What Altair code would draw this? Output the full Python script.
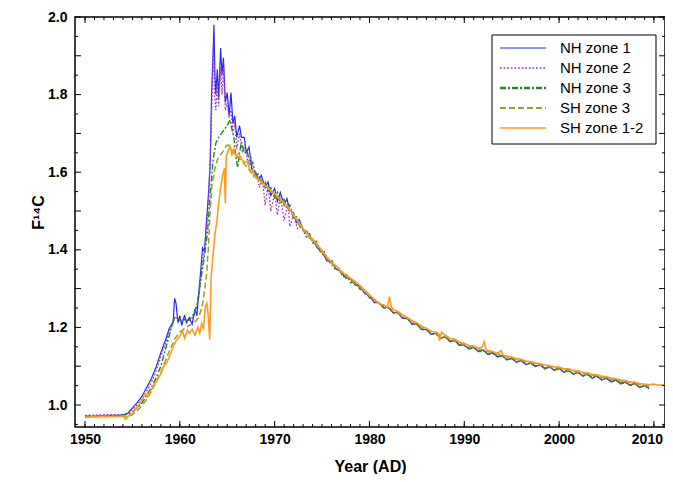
import altair as alt
import pandas as pd

# ---------------- data ----------------
series_names = ["NH zone 1", "NH zone 2", "NH zone 3", "SH zone 3", "SH zone 1-2"]

nh1 = [(1950.0,0.970),(1951.0,0.971),(1952.0,0.972),(1953.0,0.973),(1954.0,0.974),(1954.5,0.978),
       (1955.0,0.992),(1955.5,1.006),(1956.0,1.022),(1956.5,1.045),(1957.0,1.068),(1957.5,1.098),
       (1958.0,1.135),(1958.5,1.168),(1958.9,1.198),(1959.3,1.215),(1959.45,1.275),(1959.6,1.262),
       (1959.8,1.212),(1960.0,1.230),(1960.2,1.205),(1960.5,1.232),(1960.7,1.212),(1961.0,1.225),
       (1961.3,1.208),(1961.6,1.248),(1961.8,1.230),(1962.0,1.290),(1962.2,1.345),(1962.4,1.405),
       (1962.6,1.395),(1962.8,1.470),(1963.0,1.535),(1963.2,1.620),(1963.35,1.800),(1963.5,1.900),
       (1963.6,1.980),(1963.7,1.850),(1963.8,1.800),(1963.95,1.865),(1964.1,1.790),(1964.3,1.920),
       (1964.45,1.850),(1964.6,1.895),(1964.8,1.780),(1965.0,1.805),(1965.2,1.745),(1965.4,1.805),
       (1965.6,1.725),(1965.8,1.745),(1966.0,1.690),(1966.3,1.720),(1966.5,1.690),(1966.8,1.690),
       (1967.0,1.650),(1967.3,1.665),(1967.6,1.605),(1968.0,1.600),(1968.3,1.580),(1968.6,1.592),
       (1969.0,1.560),(1969.3,1.575),(1969.6,1.540),(1970.0,1.558),(1970.3,1.525),(1970.6,1.548),
       (1971.0,1.515),(1971.3,1.532),(1971.6,1.500),(1972.0,1.495),(1972.3,1.470),(1972.6,1.478),
       (1973.0,1.450),(1973.4,1.448),(1973.7,1.430),(1974.0,1.428),(1974.5,1.405),(1975.0,1.395),
       (1975.5,1.372),(1976.0,1.368),(1976.5,1.350),(1977.0,1.345),(1977.5,1.327),(1978.0,1.326),
       (1978.5,1.309),(1979.0,1.307),(1979.5,1.287),(1980.0,1.282),(1980.5,1.264),
       (1981.0,1.264),(1981.5,1.250),(1982.0,1.252),(1982.5,1.237),(1983.0,1.239),(1983.5,1.223),
       (1984.0,1.224),(1984.5,1.208),(1985.0,1.209),(1985.5,1.194),(1986.0,1.195),(1986.5,1.182),
       (1987.0,1.185),(1987.5,1.172),(1988.0,1.176),(1988.5,1.163),(1989.0,1.167),(1989.5,1.153),
       (1990.0,1.155),(1990.5,1.144),(1991.0,1.149),(1991.5,1.137),(1992.0,1.142),(1992.5,1.130),
       (1993.0,1.135),(1993.5,1.124),(1994.0,1.128),(1994.5,1.116),(1995.0,1.121),(1995.5,1.110),
       (1996.0,1.115),(1996.5,1.104),(1997.0,1.109),(1997.5,1.099),(1998.0,1.104),(1998.5,1.093),
       (1999.0,1.099),(1999.5,1.089),(2000.0,1.095),(2000.5,1.084),(2001.0,1.090),(2001.5,1.079),
       (2002.0,1.085),(2002.5,1.074),(2003.0,1.080),(2003.5,1.069),(2004.0,1.075),(2004.5,1.064),
       (2005.0,1.070),(2005.5,1.059),(2006.0,1.065),(2006.5,1.054),(2007.0,1.060),(2007.5,1.050),
       (2008.0,1.056),(2008.5,1.045),(2009.0,1.051),(2009.5,1.042)]

nh2 = [(1950.0,0.973),(1951.0,0.974),(1952.0,0.975),(1953.0,0.975),(1954.0,0.976),(1954.5,0.979),
       (1955.0,0.988),(1955.5,1.000),(1956.0,1.015),(1956.5,1.035),(1957.0,1.058),(1957.5,1.088),
       (1958.0,1.125),(1958.5,1.160),(1959.0,1.195),(1959.5,1.225),(1960.0,1.222),(1960.5,1.218),
       (1961.0,1.218),(1961.5,1.228),(1962.0,1.275),(1962.3,1.350),(1962.6,1.400),(1962.9,1.480),
       (1963.1,1.570),(1963.3,1.700),(1963.45,1.850),(1963.55,1.935),(1963.65,1.800),(1963.8,1.760),
       (1963.95,1.830),(1964.1,1.770),(1964.3,1.870),(1964.45,1.800),(1964.6,1.870),(1964.8,1.760),
       (1965.0,1.780),(1965.2,1.740),(1965.4,1.760),(1965.6,1.700),(1965.8,1.730),(1966.0,1.660),
       (1966.3,1.700),(1966.6,1.650),(1966.9,1.670),(1967.2,1.620),(1967.5,1.640),(1967.8,1.590),
       (1968.1,1.600),(1968.4,1.560),(1968.7,1.585),(1969.0,1.515),(1969.3,1.565),(1969.6,1.500),
       (1970.0,1.545),(1970.3,1.490),(1970.6,1.540),(1971.0,1.475),(1971.4,1.520),(1971.6,1.460),
       (1972.0,1.490),(1972.4,1.455),(1972.8,1.465),(1973.2,1.440),(1973.6,1.445),(1974.0,1.420),
       (1974.5,1.410),(1975.0,1.390),(1975.5,1.377),(1976.0,1.362),(1976.5,1.352),(1977.0,1.340),
       (1977.5,1.330),(1978.0,1.322),(1978.5,1.312),(1979.0,1.303),(1979.5,1.290),(1980.0,1.279),
       (1980.5,1.267),
       (1981.0,1.262),(1981.5,1.251),(1982.0,1.250),(1982.5,1.238),(1983.0,1.237),(1983.5,1.224),
       (1984.0,1.222),(1984.5,1.209),(1985.0,1.207),(1985.5,1.195),(1986.0,1.193),(1986.5,1.183),
       (1987.0,1.183),(1987.5,1.173),(1988.0,1.174),(1988.5,1.164),(1989.0,1.165),(1989.5,1.154),
       (1990.0,1.153),(1990.5,1.145),(1991.0,1.147),(1991.5,1.138),(1992.0,1.140),(1992.5,1.131),
       (1993.0,1.133),(1993.5,1.125),(1994.0,1.126),(1994.5,1.117),(1995.0,1.119),(1995.5,1.111),
       (1996.0,1.113),(1996.5,1.105),(1997.0,1.107),(1997.5,1.100),(1998.0,1.102),(1998.5,1.094),
       (1999.0,1.097),(1999.5,1.090),(2000.0,1.093),(2000.5,1.085),(2001.0,1.088),(2001.5,1.080),
       (2002.0,1.083),(2002.5,1.075),(2003.0,1.078),(2003.5,1.070),(2004.0,1.073),(2004.5,1.065),
       (2005.0,1.068),(2005.5,1.060),(2006.0,1.063),(2006.5,1.055),(2007.0,1.058),(2007.5,1.051),
       (2008.0,1.054),(2008.5,1.046),(2009.0,1.049),(2009.5,1.043)]

nh3 = [(1950.0,0.971),(1951.0,0.972),(1952.0,0.972),(1953.0,0.973),(1954.0,0.974),(1954.5,0.976),
       (1955.0,0.982),(1955.5,0.992),(1956.0,1.005),(1956.5,1.025),(1957.0,1.045),(1957.5,1.070),
       (1958.0,1.100),(1958.5,1.145),(1959.0,1.190),(1959.4,1.225),(1959.8,1.222),(1960.2,1.215),
       (1960.6,1.222),(1961.0,1.218),(1961.4,1.232),(1961.8,1.255),(1962.2,1.320),(1962.6,1.385),
       (1962.9,1.440),(1963.2,1.540),(1963.5,1.630),(1963.8,1.675),(1964.1,1.690),(1964.4,1.700),
       (1964.7,1.710),(1965.0,1.720),(1965.3,1.735),(1965.5,1.710),(1965.7,1.690),(1965.9,1.640),
       (1966.1,1.612),(1966.3,1.650),(1966.5,1.678),(1966.8,1.650),(1967.1,1.655),(1967.4,1.620),
       (1967.7,1.625),(1968.0,1.590),(1968.3,1.595),(1968.6,1.570),(1969.0,1.575),(1969.3,1.548),
       (1969.6,1.560),(1970.0,1.535),(1970.3,1.548),(1970.6,1.520),(1971.0,1.530),(1971.3,1.505),
       (1971.6,1.515),(1972.0,1.480),(1972.3,1.485),(1972.6,1.460),(1973.0,1.455),(1973.4,1.430),
       (1973.7,1.440),(1974.0,1.418),(1974.4,1.422),(1974.8,1.395),(1975.2,1.398),(1975.6,1.370),
       (1976.0,1.375),(1976.4,1.348),(1976.8,1.352),(1977.2,1.330),(1977.6,1.335),(1978.0,1.315),
       (1978.5,1.318),(1979.0,1.298),(1979.5,1.296),(1980.0,1.276),(1980.5,1.270),
       (1981.0,1.263),(1981.5,1.252),(1982.0,1.251),(1982.5,1.239),(1983.0,1.238),(1983.5,1.225),
       (1984.0,1.223),(1984.5,1.210),(1985.0,1.208),(1985.5,1.196),(1986.0,1.194),(1986.5,1.184),
       (1987.0,1.184),(1987.5,1.174),(1988.0,1.175),(1988.5,1.165),(1989.0,1.166),(1989.5,1.155),
       (1990.0,1.154),(1990.5,1.146),(1991.0,1.148),(1991.5,1.139),(1992.0,1.141),(1992.5,1.132),
       (1993.0,1.134),(1993.5,1.126),(1994.0,1.127),(1994.5,1.118),(1995.0,1.120),(1995.5,1.112),
       (1996.0,1.114),(1996.5,1.106),(1997.0,1.108),(1997.5,1.101),(1998.0,1.103),(1998.5,1.095),
       (1999.0,1.098),(1999.5,1.091),(2000.0,1.094),(2000.5,1.086),(2001.0,1.089),(2001.5,1.081),
       (2002.0,1.084),(2002.5,1.076),(2003.0,1.079),(2003.5,1.071),(2004.0,1.074),(2004.5,1.066),
       (2005.0,1.069),(2005.5,1.061),(2006.0,1.064),(2006.5,1.056),(2007.0,1.059),(2007.5,1.052),
       (2008.0,1.055),(2008.5,1.045),(2009.0,1.050),(2009.5,1.044)]

sh3 = [(1950.0,0.969),(1951.0,0.970),(1952.0,0.970),(1953.0,0.971),(1954.0,0.972),(1954.5,0.970),
       (1955.0,0.975),(1955.5,0.985),(1956.0,0.998),(1956.5,1.015),(1957.0,1.035),(1957.5,1.060),
       (1958.0,1.085),(1958.5,1.115),(1959.0,1.145),(1959.5,1.172),(1960.0,1.188),(1960.5,1.197),
       (1961.0,1.205),(1961.5,1.212),(1962.0,1.225),(1962.4,1.260),(1962.8,1.330),(1963.0,1.400),
       (1963.2,1.500),(1963.4,1.570),(1963.7,1.610),(1964.0,1.635),(1964.3,1.645),(1964.6,1.655),
       (1964.9,1.668),(1965.1,1.670),(1965.4,1.660),(1965.7,1.650),(1966.0,1.640),(1966.5,1.630),
       (1967.0,1.615),(1967.5,1.600),(1968.0,1.590),(1968.5,1.578),(1969.0,1.565),(1969.5,1.555),
       (1970.0,1.542),(1970.5,1.530),(1971.0,1.520),(1971.5,1.505),(1972.0,1.488),(1972.5,1.470),
       (1973.0,1.452),(1973.5,1.437),(1974.0,1.424),(1974.5,1.410),(1975.0,1.394),(1975.5,1.378),
       (1976.0,1.365),(1976.5,1.354),(1977.0,1.342),(1977.5,1.332),(1978.0,1.323),(1978.5,1.313),
       (1979.0,1.303),(1979.5,1.292),(1980.0,1.280),(1980.5,1.270),
       (1981.0,1.260),(1981.5,1.257),(1982.0,1.251),(1982.5,1.245),(1983.0,1.238),(1983.5,1.231),
       (1984.0,1.223),(1984.5,1.216),(1985.0,1.208),(1985.5,1.202),(1986.0,1.195),(1986.5,1.190),
       (1987.0,1.185),(1987.5,1.180),(1988.0,1.176),(1988.5,1.171),(1989.0,1.166),(1989.5,1.161),
       (1990.0,1.155),(1990.5,1.152),(1991.0,1.149),(1991.5,1.145),(1992.0,1.142),(1992.5,1.138),
       (1993.0,1.135),(1993.5,1.132),(1994.0,1.128),(1994.5,1.124),(1995.0,1.121),(1995.5,1.118),
       (1996.0,1.115),(1996.5,1.112),(1997.0,1.109),(1997.5,1.107),(1998.0,1.104),(1998.5,1.101),
       (1999.0,1.099),(1999.5,1.097),(2000.0,1.095),(2000.5,1.092),(2001.0,1.090),(2001.5,1.087),
       (2002.0,1.085),(2002.5,1.082),(2003.0,1.080),(2003.5,1.077),(2004.0,1.075),(2004.5,1.072),
       (2005.0,1.070),(2005.5,1.067),(2006.0,1.065),(2006.5,1.062),(2007.0,1.060),(2007.5,1.058),
       (2008.0,1.056),(2008.5,1.053),(2009.0,1.051),(2009.5,1.049)]

sh12 = [(1950.0,0.968),(1951.0,0.970),(1952.0,0.971),(1953.0,0.970),(1954.0,0.971),(1954.3,0.963),
        (1954.6,0.972),(1955.0,0.978),(1955.5,0.995),(1956.0,1.012),(1956.3,1.030),(1956.6,1.022),
        (1957.0,1.040),(1957.5,1.060),(1958.0,1.080),(1958.3,1.100),(1958.6,1.108),(1959.0,1.130),
        (1959.3,1.150),(1959.6,1.165),(1960.0,1.178),(1960.3,1.190),(1960.5,1.172),(1960.8,1.192),
        (1961.0,1.185),(1961.3,1.195),(1961.6,1.180),(1961.9,1.200),(1962.1,1.185),(1962.3,1.210),
        (1962.5,1.195),(1962.7,1.255),(1962.85,1.262),(1963.0,1.230),(1963.15,1.168),(1963.3,1.330),
        (1963.5,1.385),(1963.7,1.440),(1963.9,1.470),(1964.1,1.520),(1964.3,1.560),(1964.5,1.590),
        (1964.7,1.610),(1964.8,1.520),(1964.9,1.640),(1965.1,1.655),(1965.3,1.668),(1965.5,1.645),
        (1965.7,1.660),(1965.9,1.640),(1966.2,1.648),(1966.5,1.635),(1966.8,1.625),(1967.1,1.628),
        (1967.4,1.605),(1967.7,1.605),(1968.0,1.585),(1968.5,1.578),(1969.0,1.565),(1969.5,1.555),
        (1970.0,1.545),(1970.5,1.532),(1971.0,1.522),(1971.5,1.508),(1972.0,1.490),(1972.5,1.472),
        (1973.0,1.455),(1973.5,1.440),(1974.0,1.427),(1974.5,1.414),(1975.0,1.398),(1975.5,1.382),
        (1976.0,1.368),(1976.5,1.358),(1977.0,1.345),(1977.5,1.336),(1978.0,1.327),(1978.5,1.318),
        (1979.0,1.308),(1979.5,1.296),(1980.0,1.284),(1980.5,1.273),
        (1981.0,1.262),(1981.5,1.258),(1981.9,1.252),(1982.1,1.279),(1982.3,1.254),(1982.5,1.246),
        (1983.0,1.241),(1983.5,1.232),(1984.0,1.226),(1984.5,1.217),(1985.0,1.212),(1985.5,1.203),
        (1986.0,1.198),(1986.5,1.190),(1987.0,1.188),(1987.2,1.186),(1987.4,1.166),(1987.6,1.188),
        (1988.0,1.180),(1988.5,1.172),(1989.0,1.170),(1989.5,1.162),(1990.0,1.159),(1990.5,1.153),
        (1991.0,1.152),(1991.5,1.146),(1991.9,1.150),(1992.1,1.163),(1992.3,1.142),(1992.5,1.140),
        (1993.0,1.138),(1993.5,1.133),(1993.9,1.140),(1994.1,1.128),(1994.5,1.126),(1995.0,1.124),
        (1995.5,1.119),(1996.0,1.118),(1996.5,1.113),(1997.0,1.112),(1997.5,1.108),(1998.0,1.107),
        (1998.5,1.103),(1999.0,1.102),(1999.5,1.098),(2000.0,1.098),(2000.5,1.093),(2001.0,1.093),
        (2001.5,1.089),(2002.0,1.088),(2002.5,1.084),(2003.0,1.083),(2003.5,1.079),(2004.0,1.078),
        (2004.5,1.074),(2005.0,1.073),(2005.5,1.069),(2006.0,1.068),(2006.5,1.064),(2007.0,1.063),
        (2007.5,1.059),(2008.0,1.059),(2008.5,1.055),(2009.0,1.054),(2009.5,1.052),(2010.0,1.054),
        (2010.5,1.051),(2011.0,1.052),(2011.5,1.046)]

x_labels = [1950, 1960, 1970, 1980, 1990, 2000, 2010]
y_labels = [1.0, 1.2, 1.4, 1.6, 1.8, 2.0]
x_minor_ticks = list(range(1950, 2012))
x_major_ticks = [1950, 1960, 1970, 1980, 1990, 2000, 2010]
y_minor_ticks = [0.95, 1.05, 1.15, 1.25, 1.35, 1.45, 1.55, 1.65, 1.75, 1.85, 1.95]
y_major_ticks = [1.0, 1.1, 1.2, 1.3, 1.4, 1.5, 1.6, 1.7, 1.8, 1.9, 2.0]

# ---------------- styles ----------------
series_colors = ["#2626ff", "#a53cb8", "#1b8c1b", "#9d9d2c", "#ff9a1f"]
series_dash = [[1, 0], [1.8, 1.8], [6, 2, 2, 2], [6, 3], [1, 0]]
series_width = [1.2, 1.6, 2.4, 2.0, 1.6]

W, H = 590, 410
FONT = "Liberation Sans"

rows = []
for name, pts in zip(series_names, [nh1, nh2, nh3, sh3, sh12]):
    for yr, v in pts:
        rows.append({"series": name, "year": yr, "f": v})
df = pd.DataFrame(rows)

xs = alt.Scale(domain=[1948.945, 2011.17], nice=False, zero=False)
ys = alt.Scale(domain=[0.9433, 2.0], nice=False, zero=False)

x_axis = alt.Axis(values=x_labels, format="d", title="Year (AD)", grid=False,
                  ticks=False, tickSize=0, domain=False, labelPadding=5,
                  labelOffset={"expr": "datum.value >= 2010 ? -7 : 0"},
                  labelFont=FONT, labelFontSize=14, labelFontWeight="bold",
                  labelColor="black", titleFont=FONT, titleFontSize=16,
                  titleFontWeight="bold", titleColor="black",
                  titleBaseline="alphabetic", titleY=44)
y_axis = alt.Axis(values=y_labels, format=".1f", title="F¹⁴C", grid=False,
                  ticks=False, tickSize=0, domain=False, labelPadding=8,
                  labelFont=FONT, labelFontSize=14, labelFontWeight="bold",
                  labelColor="black", titleFont=FONT, titleFontSize=16,
                  titleFontWeight="bold", titleColor="black",
                  titleAngle=270, titleBaseline="middle", titleAlign="center",
                  titleX=-37, titleY=195)

lines = alt.Chart(df).mark_line(clip=True).encode(
    x=alt.X("year:Q", scale=xs, axis=x_axis),
    y=alt.Y("f:Q", scale=ys, axis=y_axis),
    color=alt.Color("series:N", scale=alt.Scale(domain=series_names, range=series_colors), legend=None),
    strokeDash=alt.StrokeDash("series:N", scale=alt.Scale(domain=series_names, range=series_dash), legend=None),
    strokeWidth=alt.StrokeWidth("series:N", scale=alt.Scale(domain=series_names, range=series_width), legend=None),
)

def xtick_layer(vals, y0, y1):
    return alt.Chart(pd.DataFrame({"year": vals})).mark_rule(color="black", strokeWidth=1).encode(
        x=alt.X("year:Q", scale=xs, axis=x_axis), y=alt.value(y0), y2=alt.value(y1))

def ytick_layer(vals, x0, x1):
    return alt.Chart(pd.DataFrame({"f": vals})).mark_rule(color="black", strokeWidth=1).encode(
        y=alt.Y("f:Q", scale=ys, axis=y_axis), x=alt.value(x0), x2=alt.value(x1))

ticks = [
    xtick_layer(x_minor_ticks, H, H - 3), xtick_layer(x_major_ticks, H, H - 6),
    xtick_layer(x_minor_ticks, 0, 3), xtick_layer(x_major_ticks, 0, 6),
    ytick_layer(y_minor_ticks, 0, 3), ytick_layer(y_major_ticks, 0, 6),
    ytick_layer(y_minor_ticks, W, W - 3), ytick_layer(y_major_ticks, W, W - 6),
]

legend_df = pd.DataFrame({"series": series_names})
legend_box = alt.Chart(pd.DataFrame({"k": [0]})).mark_rect(
    fill="white", stroke="black", strokeWidth=1).encode(
    x=alt.value(417), x2=alt.value(581), y=alt.value(18), y2=alt.value(127))

legend_layers = [legend_box]
for i, name in enumerate(series_names):
    sub = alt.Chart(legend_df).transform_filter(alt.datum.series == name)
    yy = 31 + 20 * i
    legend_layers.append(sub.mark_rule(color=series_colors[i], strokeDash=series_dash[i],
                                       strokeWidth=series_width[i]).encode(
        x=alt.value(425), x2=alt.value(471), y=alt.value(yy)))
    legend_layers.append(sub.mark_text(align="left", baseline="middle", font=FONT,
                                       fontSize=15, color="black").encode(
        x=alt.value(485), y=alt.value(yy), text="series:N"))

chart = alt.layer(lines, *ticks, *legend_layers).properties(
    width=W, height=H,
    padding={"left": 67, "top": 9, "right": 0, "bottom": 47},
    autosize=alt.AutoSizeParams(type="none"),
    background="white",
).configure_view(stroke="black", strokeWidth=1.5)

chart.save("out.html", embed_options={"renderer": "svg", "actions": False})
